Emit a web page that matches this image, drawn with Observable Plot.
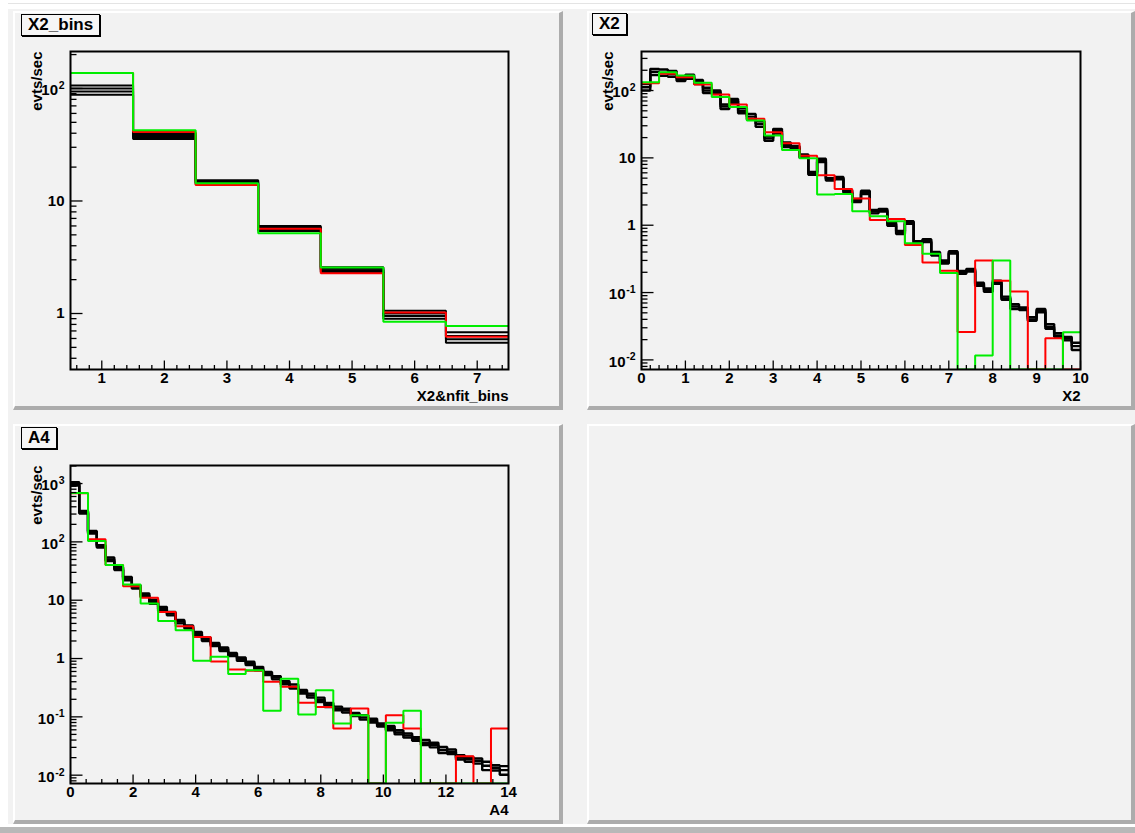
<!DOCTYPE html>
<html><head><meta charset="utf-8">
<script src="https://cdn.jsdelivr.net/npm/d3@7"></script>
<script src="https://cdn.jsdelivr.net/npm/@observablehq/plot@0.6"></script>
<style>
body{margin:0;background:#fff;}
#cv{position:relative;width:1135px;height:833px;background:#f2f2f2;overflow:hidden;font-family:"Liberation Sans",Arial,Helvetica,sans-serif;}
.deco{position:absolute;}
.pad{position:absolute;box-sizing:border-box;background:#f2f2f2;border-left:2px solid #fff;border-top:2px solid #fff;border-right:4px solid #acacac;border-bottom:4px solid #acacac;}
.plot{position:absolute;}
.plot svg{display:block;overflow:visible;}
.title{position:absolute;box-sizing:border-box;height:22px;border:1px solid #000;box-shadow:1px 1px 0 #000;background:#f6f6f6;font-weight:bold;font-size:17px;line-height:20px;padding:0 6px;white-space:nowrap;color:#000;}
</style></head>
<body>
<div id="cv"></div>
<script>
// ================= DATA =================
// Pad 1: X2_bins (7 bins, 0.5..7.5)
const tlBins = {lo: 0.5, hi: 7.5, n: 7};
const tlBlack1 = [106, 40, 15.3, 6.0, 2.58, 1.06, 0.68];
const tlBlack2 = [100, 38.5, 14.9, 5.8, 2.5, 1.0, 0.63];
const tlBlack3 = [94, 37, 14.5, 5.6, 2.42, 0.95, 0.59];
const tlBlack4 = [88, 35.5, 14.1, 5.4, 2.34, 0.9, 0.55];
const tlRed   = [137, 41, 13.9, 5.67, 2.28, 1.02, 0.62];
const tlGreen = [137, 42.5, 14.4, 5.16, 2.57, 0.845, 0.775];

// Pad 2: X2 (black: 50 bins 0..10, red/green: 25 bins 0..10)
const trBlackBins = {lo: 0, hi: 10, n: 50};
const trColorBins = {lo: 0, hi: 10, n: 25};
const trBlack1 = [125, 210, 205, 195, 158, 172, 144, 110, 100, 62,
  75, 55, 45, 35, 21, 27, 17, 15, 11.2, 6.2,
  9.7, 5.0, 5.2, 3.3, 2.45, 3.25, 1.68, 1.75, 1.1, 0.82,
  1.15, 0.58, 0.62, 0.4, 0.3, 0.41, 0.21, 0.225, 0.14, 0.115,
  0.15, 0.087, 0.067, 0.06, 0.043, 0.057, 0.034, 0.025, 0.022, 0.018];
const trBlack2 = [100, 170, 165, 160, 138, 150, 125, 92, 89, 53,
  65, 46, 37, 29, 18, 23, 14.5, 13.5, 10, 5.6,
  8.7, 4.6, 4.8, 3.0, 2.2, 2.9, 1.5, 1.6, 0.98, 0.74,
  1.05, 0.52, 0.56, 0.355, 0.27, 0.38, 0.19, 0.205, 0.126, 0.103,
  0.135, 0.078, 0.057, 0.055, 0.038, 0.051, 0.029, 0.022, 0.0195, 0.014];
const trBlack3 = [112, 190, 182, 176, 148, 160, 134, 100, 95, 58,
  70, 50, 41, 32, 19.5, 25, 15.7, 14.2, 10.6, 5.9,
  9.2, 4.8, 5.0, 3.15, 2.32, 3.05, 1.6, 1.67, 1.04, 0.78,
  1.1, 0.55, 0.59, 0.38, 0.285, 0.395, 0.2, 0.215, 0.133, 0.109,
  0.142, 0.082, 0.062, 0.057, 0.04, 0.054, 0.031, 0.023, 0.0207, 0.016];
const trRed = [128, 177, 158, 123, 87, 62, 38, 24, 16.5, 10.8,
  5.5, 3.45, 2.5, 1.2, 1.24, 0.51, 0.28, 0.21, 0.026, 0.30,
  0.15, 0.104, 0, 0.021, 0];
const trGreen = [133, 187, 167, 130, 80, 57, 36, 21.5, 13.1, 9.9,
  2.85, 2.9, 1.61, 1.36, 1.15, 0.54, 0.376, 0.196, 0, 0.0116,
  0.30, 0, 0, 0, 0.0257];

// Pad 3: A4 (black: 50 bins 0..14, red/green: 25 bins 0..14)
const blBlackBins = {lo: 0, hi: 14, n: 50};
const blColorBins = {lo: 0, hi: 14, n: 25};
const blBlack1 = [1050, 340, 154, 88, 54, 37, 25, 18, 13, 10.2,
  7.7, 6.3, 4.6, 3.7, 2.85, 2.3, 1.85, 1.55, 1.25, 1.04,
  0.88, 0.72, 0.59, 0.5, 0.41, 0.36, 0.29, 0.25, 0.214, 0.174,
  0.15, 0.138, 0.117, 0.107, 0.093, 0.077, 0.07, 0.059, 0.052, 0.045,
  0.04, 0.036, 0.0305, 0.0275, 0.022, 0.0205, 0.0193, 0.017, 0.0148, 0.0143];
const blBlack2 = [920, 306, 139, 80, 47, 33, 22, 15.8, 11.4, 8.7,
  6.6, 5.5, 4.0, 3.27, 2.5, 2.0, 1.63, 1.35, 1.1, 0.91,
  0.77, 0.63, 0.52, 0.44, 0.36, 0.306, 0.25, 0.214, 0.18, 0.148,
  0.13, 0.118, 0.103, 0.09, 0.08, 0.068, 0.059, 0.05, 0.044, 0.039,
  0.033, 0.03, 0.024, 0.023, 0.0186, 0.017, 0.0158, 0.0122, 0.012, 0.0102];
const blBlack3 = [985, 322, 146, 84, 50, 35, 23.5, 16.8, 12.2, 9.4,
  7.1, 5.9, 4.3, 3.5, 2.67, 2.15, 1.74, 1.45, 1.17, 0.97,
  0.82, 0.67, 0.55, 0.47, 0.385, 0.33, 0.27, 0.232, 0.196, 0.16,
  0.14, 0.128, 0.11, 0.098, 0.086, 0.072, 0.064, 0.054, 0.048, 0.042,
  0.036, 0.033, 0.027, 0.025, 0.02, 0.0188, 0.0175, 0.0145, 0.0134, 0.0122];
const blRed = [680, 111, 40, 17.4, 11, 6.3, 3.58, 2.35, 0.89, 0.65,
  0.615, 0.40, 0.327, 0.174, 0.148, 0.063, 0.139, 0, 0.107, 0.063,
  0, 0, 0.0212, 0, 0.063];
const blGreen = [690, 104, 40, 18.6, 8.8, 4.4, 3.06, 0.92, 1.07, 0.545,
  0.63, 0.127, 0.45, 0.11, 0.286, 0.077, 0.107, 0, 0.079, 0.127,
  0, 0, 0, 0, 0];

// Tick labels
const tlXTicks = [1, 2, 3, 4, 5, 6, 7];
const trXTicks = [0, 1, 2, 3, 4, 5, 6, 7, 8, 9, 10];
const blXTicks = [0, 2, 4, 6, 8, 10, 12, 14];
const tlYLabels = [{v: 1, base: "1", exp: ""}, {v: 10, base: "10", exp: ""}, {v: 100, base: "10", exp: "2"}];
const trYLabels = [{v: 0.01, base: "10", exp: "-2"}, {v: 0.1, base: "10", exp: "-1"}, {v: 1, base: "1", exp: ""},
  {v: 10, base: "10", exp: ""}, {v: 100, base: "10", exp: "2"}];
const blYLabels = [{v: 0.01, base: "10", exp: "-2"}, {v: 0.1, base: "10", exp: "-1"}, {v: 1, base: "1", exp: ""},
  {v: 10, base: "10", exp: ""}, {v: 100, base: "10", exp: "2"}, {v: 1000, base: "10", exp: "3"}];

// ================= DRAWING =================
const FONT = '"Liberation Sans", Arial, Helvetica, sans-serif';
const BLACK = "#000000", RED = "#ff0000", GREEN = "#00ee00";
const LABEL_SIZE = 15, EXP_SIZE = 10.5;

function stepPoints(bins, vals, floor) {
  const w = (bins.hi - bins.lo) / bins.n;
  const pts = [];
  vals.forEach((v, i) => {
    const y = v > 0 ? v : floor;
    pts.push({x: bins.lo + i * w, y}, {x: bins.lo + (i + 1) * w, y});
  });
  return pts;
}
function logMinors(domain) {
  const out = [];
  const d0 = Math.floor(Math.log10(domain[0])), d1 = Math.ceil(Math.log10(domain[1]));
  for (let d = d0; d <= d1; d++) for (let k = 2; k <= 9; k++) {
    const v = k * Math.pow(10, d);
    if (v >= domain[0] && v <= domain[1]) out.push(v);
  }
  return out;
}
function linMinors(domain, step, majors) {
  const out = [];
  const start = Math.ceil(domain[0] / step - 1e-9);
  for (let i = start; i * step <= domain[1] + 1e-9; i++) {
    const v = +(i * step).toFixed(6);
    if (!majors.some(m => Math.abs(m - v) < 1e-6)) out.push(v);
  }
  return out;
}
function majorsIn(domain) {
  const out = [];
  for (let d = Math.ceil(Math.log10(domain[0])); Math.pow(10, d) <= domain[1]; d++) out.push(Math.pow(10, d));
  return out;
}
const tickSym = (dx, dy) => ({draw(ctx) { ctx.moveTo(0, 0); ctx.lineTo(dx, dy); }});

function yLabelMarks(labels) {
  const out = [];
  const common = {y: "v", frameAnchor: "left", textAnchor: "end", fontWeight: "bold", fontFamily: FONT, fill: "#000"};
  const plain = labels.filter(d => !d.exp);
  out.push(Plot.text(plain, {...common, text: "base", dx: -6, fontSize: LABEL_SIZE}));
  for (const len of [1, 2]) {
    const g = labels.filter(d => d.exp && d.exp.length === len);
    if (!g.length) continue;
    const ew = len === 1 ? 6.5 : 10;
    out.push(Plot.text(g, {...common, text: "base", dx: -6 - ew, dy: 2, fontSize: LABEL_SIZE}));
    out.push(Plot.text(g, {...common, text: "exp", dx: -6, dy: -3, fontSize: EXP_SIZE}));
  }
  return out;
}

function panel(cfg) {
  const floor = cfg.yDomain[0];
  const marks = [];
  for (const s of cfg.series) {
    marks.push(Plot.line(stepPoints(s.bins, s.values, floor), {
      x: "x", y: "y", stroke: s.color, strokeWidth: s.width, clip: true,
      strokeLinejoin: "miter", strokeLinecap: "butt"
    }));
  }
  const xMinor = linMinors(cfg.xDomain, cfg.xMinorStep, cfg.xTicks);
  const yMajor = majorsIn(cfg.yDomain);
  const yMinor = logMinors(cfg.yDomain);
  const tk = {stroke: "#000", strokeWidth: 1.3, fill: "none", r: 1};
  marks.push(Plot.dot(xMinor, {...tk, x: d => d, frameAnchor: "bottom", symbol: tickSym(0, -4.5)}));
  marks.push(Plot.dot(cfg.xTicks, {...tk, x: d => d, frameAnchor: "bottom", symbol: tickSym(0, -9)}));
  marks.push(Plot.dot(yMinor, {...tk, y: d => d, frameAnchor: "left", symbol: tickSym(6, 0)}));
  marks.push(Plot.dot(yMajor, {...tk, y: d => d, frameAnchor: "left", symbol: tickSym(12, 0)}));
  marks.push(Plot.frame({stroke: "#000", strokeWidth: 2}));
  // tick labels
  marks.push(Plot.text(cfg.xTicks, {x: d => d, text: d => String(d), frameAnchor: "bottom", dy: 13,
    fontSize: LABEL_SIZE, fontWeight: "bold", fontFamily: FONT, fill: "#000"}));
  marks.push(...yLabelMarks(cfg.yLabels));
  // axis titles
  marks.push(Plot.text([cfg.xTitle], {text: d => d, frameAnchor: "bottom-right", textAnchor: "end", dy: 31,
    fontSize: LABEL_SIZE, fontWeight: "bold", fontFamily: FONT, fill: "#000"}));
  marks.push(Plot.text(["evts/sec"], {text: d => d, frameAnchor: "top-left", textAnchor: "end", rotate: -90,
    dx: -39, fontSize: LABEL_SIZE, fontWeight: "bold", fontFamily: FONT, fill: "#000"}));

  return Plot.plot({
    width: cfg.w, height: cfg.h,
    marginLeft: cfg.m[0], marginRight: cfg.m[1], marginTop: cfg.m[2], marginBottom: cfg.m[3],
    x: {domain: cfg.xDomain, axis: null},
    y: {type: "log", domain: cfg.yDomain, axis: null},
    style: {background: "none", overflow: "visible", fontFamily: FONT},
    marks
  });
}

const cv = document.getElementById("cv");
function addDiv(cls, css, text) {
  const d = document.createElement("div");
  d.className = cls;
  Object.assign(d.style, css);
  if (text) d.textContent = text;
  cv.appendChild(d);
  return d;
}
// canvas decorations
addDiv("deco", {left: "0px", top: "0px", width: "1135px", height: "9px", background: "#fff"});
addDiv("deco", {left: "0px", top: "3px", width: "1135px", height: "1px", background: "#e4e4e4"});
addDiv("deco", {left: "0px", top: "0px", width: "8px", height: "824px", background: "#fff"});
addDiv("deco", {left: "0px", top: "824px", width: "1135px", height: "3px", background: "#fff"});
addDiv("deco", {left: "0px", top: "827px", width: "1135px", height: "6px", background: "#b8b8b8"});

const pads = [
  {x: 13, y: 11, w: 550, h: 399},
  {x: 587, y: 11, w: 548, h: 399},
  {x: 13, y: 424, w: 550, h: 400},
  {x: 587, y: 424, w: 548, h: 400}
];
pads.forEach(p => addDiv("pad", {left: p.x + "px", top: p.y + "px", width: p.w + "px", height: p.h + "px"}));

const panels = [
  {pad: pads[0], m: [57, 55, 40, 41], xDomain: [0.5, 7.5], yDomain: [0.318, 213], xMinorStep: 0.2,
   xTicks: tlXTicks, yLabels: tlYLabels, xTitle: "X2&nfit_bins",
   series: [
     {bins: tlBins, values: tlBlack1, color: BLACK, width: 2},
     {bins: tlBins, values: tlBlack2, color: BLACK, width: 2},
     {bins: tlBins, values: tlBlack3, color: BLACK, width: 2},
     {bins: tlBins, values: tlBlack4, color: BLACK, width: 2},
     {bins: tlBins, values: tlRed, color: RED, width: 2},
     {bins: tlBins, values: tlGreen, color: GREEN, width: 2}
   ]},
  {pad: pads[1], m: [54, 55, 40, 41], xDomain: [0, 10], yDomain: [0.0072, 380], xMinorStep: 0.2,
   xTicks: trXTicks, yLabels: trYLabels, xTitle: "X2",
   series: [
     {bins: trBlackBins, values: trBlack1, color: BLACK, width: 2.4},
     {bins: trBlackBins, values: trBlack3, color: BLACK, width: 2.4},
     {bins: trBlackBins, values: trBlack2, color: BLACK, width: 2.4},
     {bins: trColorBins, values: trRed, color: RED, width: 2},
     {bins: trColorBins, values: trGreen, color: GREEN, width: 2}
   ]},
  {pad: pads[2], m: [57, 55, 41, 41], xDomain: [0, 14], yDomain: [0.0072, 2040], xMinorStep: 0.5,
   xTicks: blXTicks, yLabels: blYLabels, xTitle: "A4",
   series: [
     {bins: blBlackBins, values: blBlack1, color: BLACK, width: 2.4},
     {bins: blBlackBins, values: blBlack3, color: BLACK, width: 2.4},
     {bins: blBlackBins, values: blBlack2, color: BLACK, width: 2.4},
     {bins: blColorBins, values: blRed, color: RED, width: 2},
     {bins: blColorBins, values: blGreen, color: GREEN, width: 2}
   ]}
];
panels.forEach(c => {
  const p = c.pad;
  const holder = addDiv("plot", {left: p.x + "px", top: p.y + "px", width: p.w + "px", height: p.h + "px"});
  holder.appendChild(panel({...c, w: p.w, h: p.h}));
});

// pad title boxes
addDiv("title", {left: "21px", top: "14px"}, "X2_bins");
addDiv("title", {left: "592px", top: "13px"}, "X2");
addDiv("title", {left: "21px", top: "427px"}, "A4");
</script>
</body></html>
